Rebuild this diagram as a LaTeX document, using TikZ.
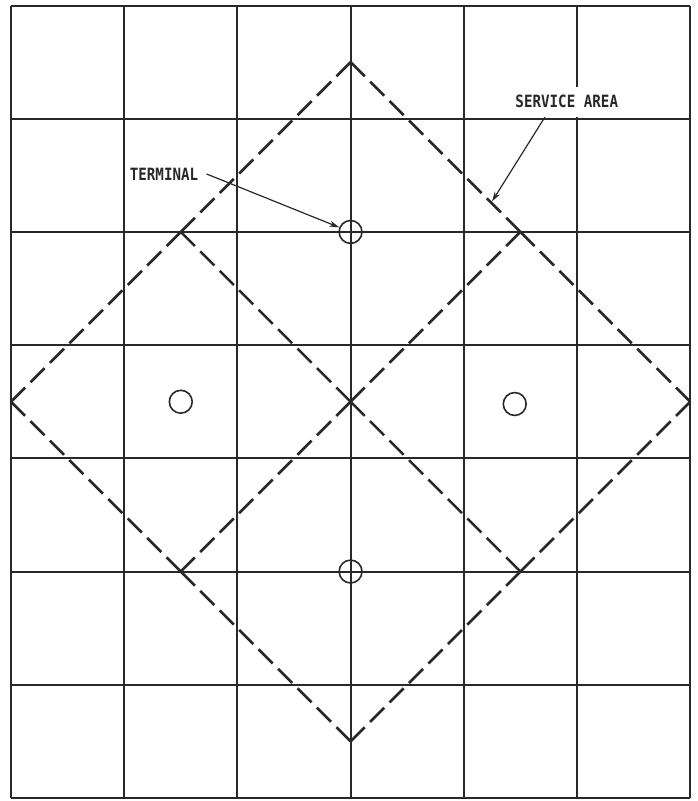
\documentclass[tikz,border=0pt]{standalone}
\usepackage{fontspec}
\newfontfamily\lettering[FakeStretch=0.84]{DejaVu Sans Mono}
\usetikzlibrary{arrows.meta}
\definecolor{inkgray}{RGB}{40,40,40}

\begin{document}
\begin{tikzpicture}[x=2cm, y=2cm,
    gridline/.style={draw=inkgray, line width=1pt},
    area/.style={draw=inkgray, line width=1.3pt, dash pattern=on 10.03pt off 3.8pt},
    terminal/.style={circle, draw=inkgray, line width=0.8pt, minimum size=11.5pt, inner sep=0pt},
    callout/.style={font=\lettering\bfseries\fontsize{8.5}{10}\selectfont, text=inkgray, inner xsep=4pt},
    pointer/.style={draw=inkgray, line width=0.6pt, -{Stealth[length=5pt, width=3pt]}}
]
\useasboundingbox (-0.097,-0.027) rectangle (6.069,7.049);

% grid
\foreach \i in {0,...,6} \draw[gridline] (\i,0) -- (\i,7);
\foreach \j in {0,...,7} \draw[gridline] (0,\j) -- (6,\j);

% service areas
\coordinate (top) at (3,6.5);
\coordinate (bottom) at (3,0.5);
\coordinate (west) at (0,3.5);
\coordinate (east) at (6,3.5);
\coordinate (mid) at (3,3.5);
\coordinate (nw) at (1.5,5);
\coordinate (ne) at (4.5,5);
\coordinate (sw) at (1.5,2);
\coordinate (se) at (4.5,2);
\foreach \a/\b in {top/nw, nw/west, west/sw, sw/bottom, bottom/se, se/east, east/ne, ne/top,
                   nw/mid, mid/se, sw/mid, mid/ne}
  \draw[area] (\a) -- (\b);

% terminals
\node[terminal] (t1) at (3,5) {};
\node[terminal] (t2) at (1.5,3.5) {};
\node[terminal] (t3) at (4.45,3.48) {};
\node[terminal] (t4) at (3,2) {};

% labels
\node[callout] (termlabel) at (1.352,5.512) {TERMINAL};
\node[callout, fill=white, minimum height=15pt] (arealabel) at (4.91,6.15) {SERVICE AREA};
\coordinate (areaedge) at (4.25,5.27);
\draw[pointer] (termlabel.east) -- (t1);
\draw[pointer] ([xshift=-11pt]arealabel.south) -- (areaedge);

\end{tikzpicture}
\end{document}
